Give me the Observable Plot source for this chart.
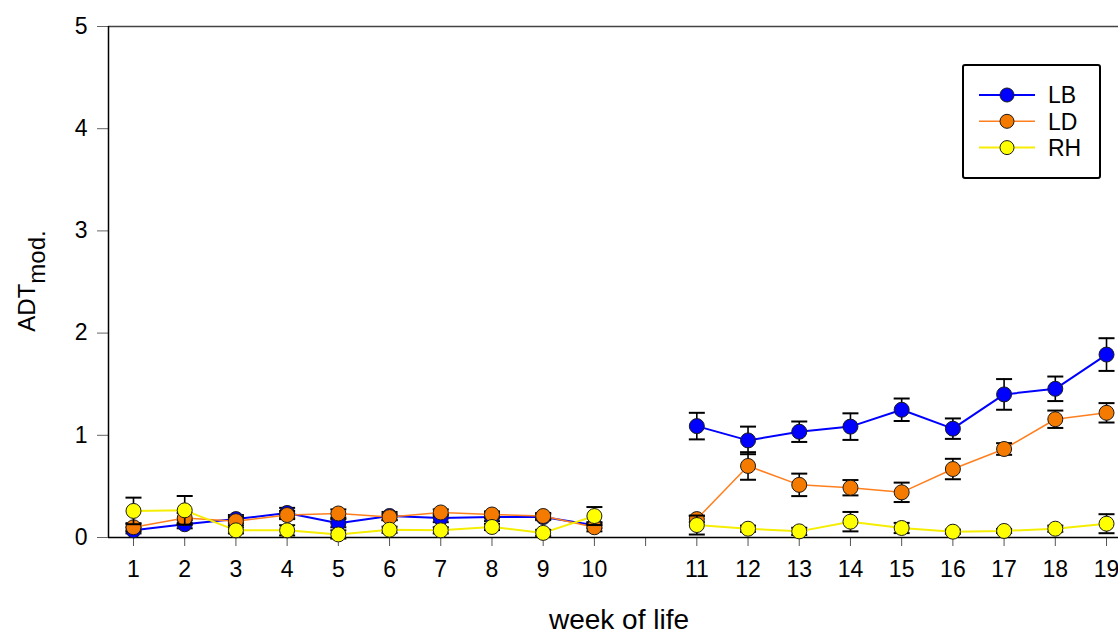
<!DOCTYPE html>
<html>
<head>
<meta charset="utf-8">
<script src="https://cdn.jsdelivr.net/npm/d3@7"></script>
<script src="https://cdn.jsdelivr.net/npm/@observablehq/plot@0.6"></script>
<style>
  html, body { margin: 0; padding: 0; background: #fff; overflow: hidden; }
  #wrap { position: relative; width: 1118px; height: 633px; font-family: Arial, "Liberation Sans", sans-serif; color: #000; }
  #chart svg { display: block; }
  #chart svg g[aria-label="y-axis tick label"] { font-size: 23px !important; }
  #chart svg g[aria-label="x-axis tick label"] { font-size: 23px !important; }
  .ytitle { position: absolute; left: 27px; top: 281px; transform: translate(-50%, -50%) rotate(-90deg); white-space: nowrap; font-size: 24px; line-height: 24px; }
  .ytitle sub { font-size: 24px; vertical-align: -10px; line-height: 0; }
  .xtitle { position: absolute; left: 619px; top: 606px; transform: translateX(-50%); white-space: nowrap; font-size: 28px; line-height: 28px; }
  #legend { position: absolute; left: 962px; top: 64px; }
</style>
</head>
<body>
<div id="wrap">
  <div id="chart"></div>
  <div class="ytitle">ADT<sub>mod.</sub></div>
  <div class="xtitle">week of life</div>
  <div id="legend"></div>
</div>
<script>
// ---- data ----
const weeks = [1,2,3,4,5,6,7,8,9,10,11,12,13,14,15,16,17,18,19];
// axis tick labels in order; the blank entry is the unlabeled break tick between week 10 and 11
const xTickLabels = ["1","2","3","4","5","6","7","8","9","10","","11","12","13","14","15","16","17","18","19"];
const yTicks = [0,1,2,3,4,5];
const seriesNames = ["LB","LD","RH"];

const LB     = [0.07,0.13,0.18,0.24,0.14,0.21,0.19,0.20,0.20,0.12, 1.09,0.95,1.035,1.085,1.25,1.065,1.40,1.455,1.79];
const LB_err = [0.03,0.04,0.04,0.05,0.04,0.04,0.04,0.04,0.03,0.03, 0.13,0.135,0.10,0.13,0.11,0.10,0.15,0.12,0.16];
const LD     = [0.10,0.19,0.16,0.22,0.235,0.20,0.245,0.225,0.21,0.10, 0.18,0.70,0.515,0.487,0.442,0.67,0.866,1.157,1.22];
const LD_err = [0.04,0.05,0.04,0.04,0.04,0.03,0.03,0.03,0.03,0.04, 0.03,0.135,0.11,0.075,0.095,0.10,0.057,0.085,0.095];
const RH     = [0.26,0.266,0.07,0.07,0.03,0.076,0.07,0.103,0.045,0.21, 0.122,0.086,0.06,0.155,0.093,0.057,0.064,0.086,0.135];
const RH_err = [0.13,0.14,0.03,0.05,0.04,0.03,0.03,0.03,0.03,0.088, 0.093,0.03,0.035,0.095,0.05,0.02,0.02,0.03,0.093];

// ---- styles ----
const lineColors = {LB: "#0000ff", LD: "#ff7f1e", RH: "#f5ee00"};
const lineWidths = {LB: 2, LD: 1.5, RH: 2};
const dotColors  = {LB: "#0000ff", LD: "#f57a00", RH: "#ffff00"};

const values = {LB, LD, RH};
const errors = {LB: LB_err, LD: LD_err, RH: RH_err};
const breakIndex = xTickLabels.indexOf("");
const slotOf = w => xTickLabels.indexOf(String(w)) + 1;

const rows = [];
for (const s of seriesNames) {
  weeks.forEach((w, i) => rows.push({
    series: s, week: w, slot: slotOf(w),
    value: values[s][i], err: errors[s][i],
    part: slotOf(w) - 1 < breakIndex ? 0 : 1
  }));
}

const capSymbol = {
  draw(ctx, size) { const r = Math.sqrt(size / Math.PI); ctx.moveTo(-r, 0); ctx.lineTo(r, 0); }
};

const xDomain = [0.512, 20.234];

const seriesMarks = seriesNames.flatMap(s => {
  const d = rows.filter(r => r.series === s);
  return [
    Plot.line(d, {x: "slot", y: "value", z: "part", stroke: lineColors[s], strokeWidth: lineWidths[s]}),
    Plot.ruleX(d, {x: "slot", y1: r => r.value - r.err, y2: r => r.value + r.err, stroke: "#000", strokeWidth: 1.6}),
    Plot.dot(d, {x: "slot", y: r => r.value + r.err, symbol: capSymbol, r: 8, stroke: "#000", strokeWidth: 2, fill: "none"}),
    Plot.dot(d, {x: "slot", y: r => r.value - r.err, symbol: capSymbol, r: 8, stroke: "#000", strokeWidth: 2, fill: "none"}),
    Plot.dot(d, {x: "slot", y: "value", r: 7.5, fill: dotColors[s], stroke: "#1a1a1a", strokeWidth: 1})
  ];
});

const chart = Plot.plot({
  width: 1118,
  height: 633,
  marginLeft: 108,
  marginRight: 0,
  marginTop: 26,
  marginBottom: 96,
  style: {fontFamily: "Arial, 'Liberation Sans', sans-serif", fontSize: "23px", background: "#fff", color: "#000"},
  x: {type: "linear", domain: xDomain},
  y: {domain: [0, 5]},
  marks: [
    Plot.axisY({ticks: yTicks, tickFormat: d3.format("d"), tickSize: 11, tickPadding: 10, fontSize: 23, stroke: "#666", fill: "#000", label: null}),
    Plot.axisX({ticks: d3.range(1, xTickLabels.length + 1), tickFormat: v => xTickLabels[v - 1], tickSize: 9, tickPadding: 14, fontSize: 23, stroke: "#555", fill: "#000", label: null}),
    Plot.ruleY([5], {stroke: "#444", strokeWidth: 1.5}),
    Plot.ruleY([0], {stroke: "#000", strokeWidth: 1.5}),
    Plot.ruleX([xDomain[0]], {stroke: "#000", strokeWidth: 1.5}),
    ...seriesMarks
  ]
});
document.getElementById("chart").appendChild(chart);

// ---- legend ----
const lg = d3.select("#legend").append("svg").attr("width", 140).attr("height", 116);
lg.append("rect").attr("x", 1).attr("y", 1).attr("width", 137).attr("height", 113).attr("rx", 2)
  .attr("fill", "#fff").attr("stroke", "#000").attr("stroke-width", 2);
const rowsG = lg.selectAll("g").data(seriesNames).join("g")
  .attr("transform", (d, i) => `translate(0, ${31 + i * 26.3})`);
rowsG.append("line").attr("x1", 17).attr("x2", 73).attr("y1", 0).attr("y2", 0)
  .attr("stroke", d => lineColors[d]).attr("stroke-width", d => lineWidths[d]);
rowsG.append("circle").attr("cx", 45).attr("cy", 0).attr("r", 7)
  .attr("fill", d => dotColors[d]).attr("stroke", "#1a1a1a").attr("stroke-width", 1);
rowsG.append("text").attr("x", 86).attr("y", 0).attr("dy", "0.36em")
  .attr("font-family", "Arial, 'Liberation Sans', sans-serif").attr("font-size", 23).text(d => d);
</script>
</body>
</html>
